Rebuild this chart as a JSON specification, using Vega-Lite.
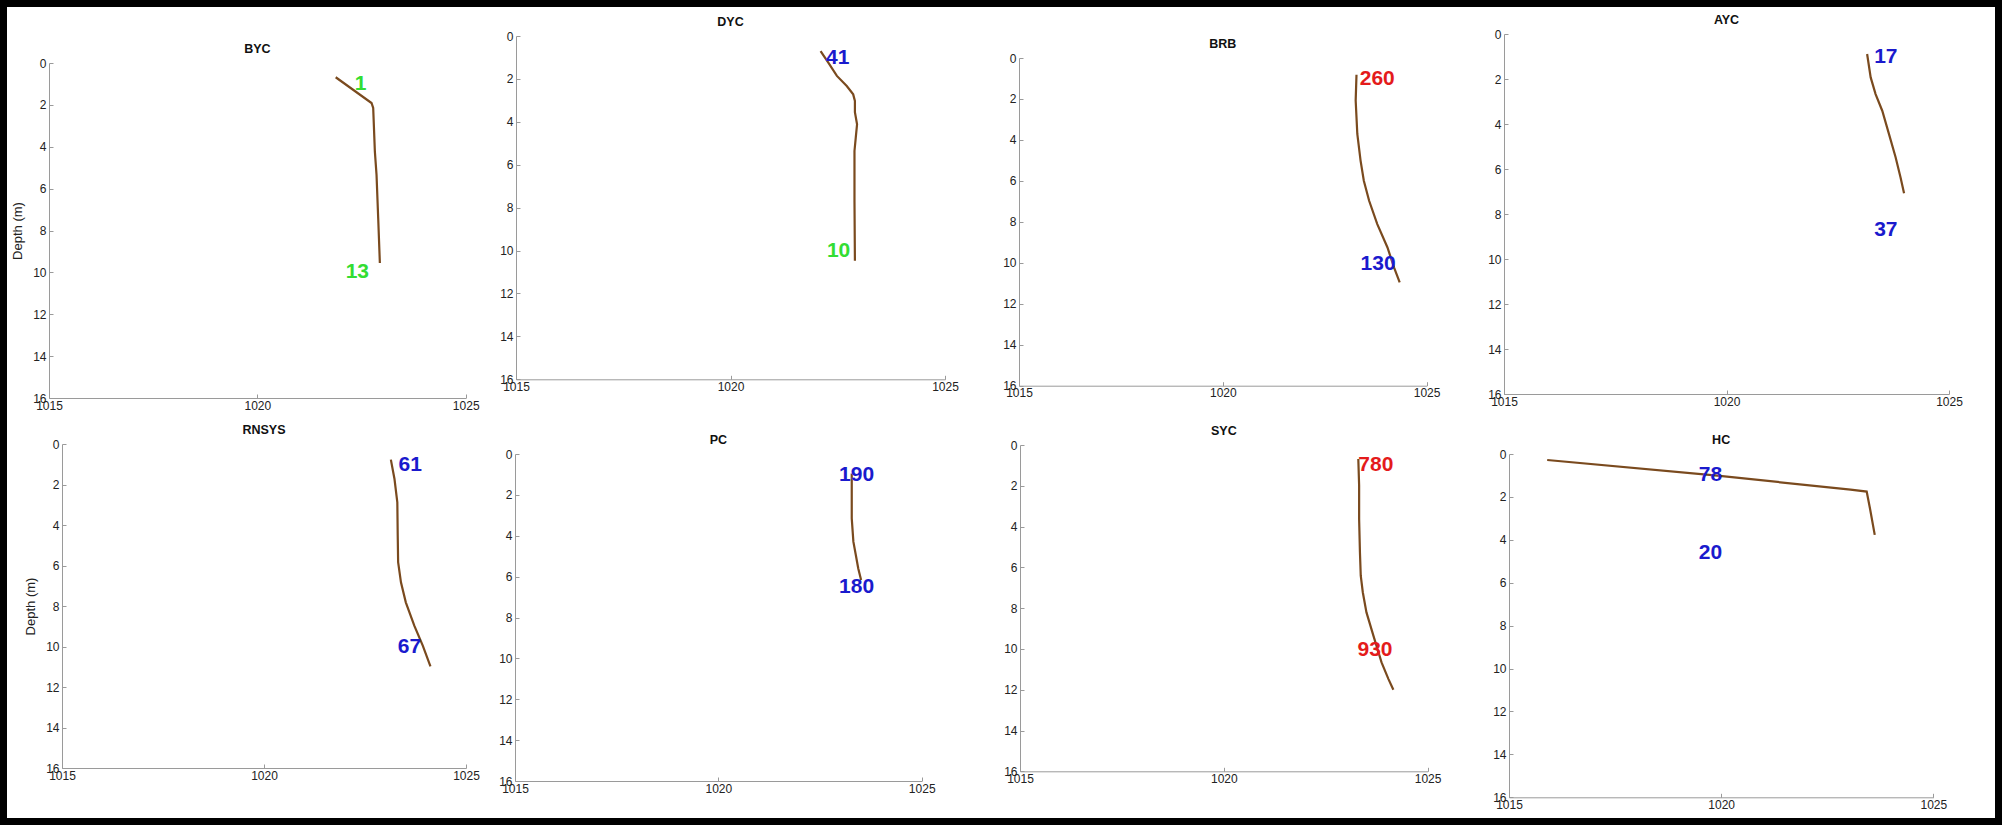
{
  "$schema": "https://vega.github.io/schema/vega-lite/v6.json",
  "background": "white",
  "padding": 0,
  "datasets": {
    "profiles": [
      {"p": "BYC", "d": 0.68, "rho": 1021.88}, {"p": "BYC", "d": 1.91, "rho": 1022.74}, {"p": "BYC", "d": 2.15, "rho": 1022.78}, {"p": "BYC", "d": 4.22, "rho": 1022.82}, {"p": "BYC", "d": 5.33, "rho": 1022.86}, {"p": "BYC", "d": 7.4, "rho": 1022.9}, {"p": "BYC", "d": 9.55, "rho": 1022.94},
      {"p": "DYC", "d": 0.7, "rho": 1022.1}, {"p": "DYC", "d": 1.24, "rho": 1022.28}, {"p": "DYC", "d": 1.86, "rho": 1022.48}, {"p": "DYC", "d": 2.33, "rho": 1022.71}, {"p": "DYC", "d": 2.72, "rho": 1022.86}, {"p": "DYC", "d": 3.03, "rho": 1022.9}, {"p": "DYC", "d": 3.55, "rho": 1022.9}, {"p": "DYC", "d": 4.12, "rho": 1022.95}, {"p": "DYC", "d": 4.74, "rho": 1022.92}, {"p": "DYC", "d": 5.36, "rho": 1022.89}, {"p": "DYC", "d": 7.69, "rho": 1022.89}, {"p": "DYC", "d": 10.48, "rho": 1022.9},
      {"p": "BRB", "d": 0.82, "rho": 1023.28}, {"p": "BRB", "d": 2.08, "rho": 1023.26}, {"p": "BRB", "d": 3.71, "rho": 1023.3}, {"p": "BRB", "d": 5.01, "rho": 1023.38}, {"p": "BRB", "d": 5.99, "rho": 1023.46}, {"p": "BRB", "d": 6.97, "rho": 1023.59}, {"p": "BRB", "d": 8.11, "rho": 1023.79}, {"p": "BRB", "d": 9.25, "rho": 1024.04}, {"p": "BRB", "d": 10.22, "rho": 1024.2}, {"p": "BRB", "d": 10.96, "rho": 1024.34},
      {"p": "AYC", "d": 0.89, "rho": 1023.16}, {"p": "AYC", "d": 1.93, "rho": 1023.24}, {"p": "AYC", "d": 2.67, "rho": 1023.35}, {"p": "AYC", "d": 3.41, "rho": 1023.5}, {"p": "AYC", "d": 4.44, "rho": 1023.65}, {"p": "AYC", "d": 5.48, "rho": 1023.8}, {"p": "AYC", "d": 6.37, "rho": 1023.91}, {"p": "AYC", "d": 7.08, "rho": 1023.99},
      {"p": "RNSYS", "d": 0.77, "rho": 1023.14}, {"p": "RNSYS", "d": 1.73, "rho": 1023.23}, {"p": "RNSYS", "d": 2.88, "rho": 1023.3}, {"p": "RNSYS", "d": 4.52, "rho": 1023.31}, {"p": "RNSYS", "d": 5.84, "rho": 1023.32}, {"p": "RNSYS", "d": 6.83, "rho": 1023.39}, {"p": "RNSYS", "d": 7.82, "rho": 1023.51}, {"p": "RNSYS", "d": 8.97, "rho": 1023.72}, {"p": "RNSYS", "d": 9.96, "rho": 1023.93}, {"p": "RNSYS", "d": 10.98, "rho": 1024.12},
      {"p": "PC", "d": 0.95, "rho": 1023.28}, {"p": "PC", "d": 2.0, "rho": 1023.28}, {"p": "PC", "d": 3.15, "rho": 1023.28}, {"p": "PC", "d": 4.29, "rho": 1023.32}, {"p": "PC", "d": 4.94, "rho": 1023.38}, {"p": "PC", "d": 5.6, "rho": 1023.44}, {"p": "PC", "d": 6.16, "rho": 1023.51},
      {"p": "SYC", "d": 0.69, "rho": 1023.3}, {"p": "SYC", "d": 1.99, "rho": 1023.32}, {"p": "SYC", "d": 3.63, "rho": 1023.32}, {"p": "SYC", "d": 5.26, "rho": 1023.34}, {"p": "SYC", "d": 6.41, "rho": 1023.36}, {"p": "SYC", "d": 7.22, "rho": 1023.41}, {"p": "SYC", "d": 8.21, "rho": 1023.5}, {"p": "SYC", "d": 9.35, "rho": 1023.67}, {"p": "SYC", "d": 10.66, "rho": 1023.87}, {"p": "SYC", "d": 11.48, "rho": 1024.04}, {"p": "SYC", "d": 12.0, "rho": 1024.16},
      {"p": "HC", "d": 0.28, "rho": 1015.9}, {"p": "HC", "d": 1.01, "rho": 1019.91}, {"p": "HC", "d": 1.66, "rho": 1023.05}, {"p": "HC", "d": 1.75, "rho": 1023.43}, {"p": "HC", "d": 2.56, "rho": 1023.51}, {"p": "HC", "d": 3.77, "rho": 1023.62}
    ],
    "labels": [
      {"p": "BYC", "d": 0.99, "rho": 1022.48, "t": "1", "k": "g"}, {"p": "BYC", "d": 9.98, "rho": 1022.4, "t": "13", "k": "g"},
      {"p": "DYC", "d": 1.04, "rho": 1022.5, "t": "41", "k": "b"}, {"p": "DYC", "d": 10.02, "rho": 1022.52, "t": "10", "k": "g"},
      {"p": "BRB", "d": 1.03, "rho": 1023.79, "t": "260", "k": "r"}, {"p": "BRB", "d": 10.06, "rho": 1023.81, "t": "130", "k": "b"},
      {"p": "AYC", "d": 1.01, "rho": 1023.58, "t": "17", "k": "b"}, {"p": "AYC", "d": 8.71, "rho": 1023.58, "t": "37", "k": "b"},
      {"p": "RNSYS", "d": 1.04, "rho": 1023.62, "t": "61", "k": "b"}, {"p": "RNSYS", "d": 10.04, "rho": 1023.6, "t": "67", "k": "b"},
      {"p": "PC", "d": 1.03, "rho": 1023.4, "t": "190", "k": "b"}, {"p": "PC", "d": 6.49, "rho": 1023.4, "t": "180", "k": "b"},
      {"p": "SYC", "d": 0.98, "rho": 1023.73, "t": "780", "k": "r"}, {"p": "SYC", "d": 10.04, "rho": 1023.71, "t": "930", "k": "r"},
      {"p": "HC", "d": 0.98, "rho": 1019.75, "t": "78", "k": "b"}, {"p": "HC", "d": 4.61, "rho": 1019.75, "t": "20", "k": "b"}
    ]
  },
  "vconcat": [
    {
      "spacing": 0,
      "hconcat": [
        {"width": 11, "height": 1, "data": {"values": []}, "mark": "point"},
        {
          "spacing": 0,
          "vconcat": [
            {"width": 1, "height": 41.4, "data": {"values": []}, "mark": "point"},
            {
              "title": "BYC",
              "width": 416.7, "height": 335,
              "encoding": {
                "x": {"field": "rho", "type": "quantitative", "scale": {"domain": [1015, 1025], "nice": false, "zero": false}, "axis": {"values": [1015, 1020, 1025], "format": "d", "title": null}},
                "y": {"field": "d", "type": "quantitative", "scale": {"domain": [0, 16], "reverse": true, "nice": false, "zero": false}, "axis": {"values": [0, 2, 4, 6, 8, 10, 12, 14, 16], "title": "Depth (m)", "minExtent": 16}}
              },
              "layer": [
                {"data": {"name": "profiles"}, "transform": [{"filter": "datum.p === 'BYC'"}], "mark": {"type": "line", "color": "#7a4a1e", "strokeWidth": 2.2}, "encoding": {"order": {"field": "d", "type": "quantitative"}}},
                {"data": {"name": "labels"}, "transform": [{"filter": "datum.p === 'BYC'"}], "mark": {"type": "text", "font": "Liberation Sans", "fontWeight": "bold", "fontSize": 21, "align": "center", "baseline": "middle"}, "encoding": {"text": {"field": "t"}, "color": {"field": "k", "type": "nominal", "scale": {"domain": ["g", "b", "r"], "range": ["#33dd33", "#1a1acd", "#e41b1b"]}, "legend": null}}}
              ]
            }
          ]
        },
        {
          "spacing": 0,
          "vconcat": [
            {"width": 1, "height": 14.7, "data": {"values": []}, "mark": "point"},
            {
              "title": "DYC",
              "width": 429, "height": 343.3,
              "encoding": {
                "x": {"field": "rho", "type": "quantitative", "scale": {"domain": [1015, 1025], "nice": false, "zero": false}, "axis": {"values": [1015, 1020, 1025], "format": "d", "title": null}},
                "y": {"field": "d", "type": "quantitative", "scale": {"domain": [0, 16], "reverse": true, "nice": false, "zero": false}, "axis": {"values": [0, 2, 4, 6, 8, 10, 12, 14, 16], "title": null, "minExtent": 35.9}}
              },
              "layer": [
                {"data": {"name": "profiles"}, "transform": [{"filter": "datum.p === 'DYC'"}], "mark": {"type": "line", "color": "#7a4a1e", "strokeWidth": 2.2}, "encoding": {"order": {"field": "d", "type": "quantitative"}}},
                {"data": {"name": "labels"}, "transform": [{"filter": "datum.p === 'DYC'"}], "mark": {"type": "text", "font": "Liberation Sans", "fontWeight": "bold", "fontSize": 21, "align": "center", "baseline": "middle"}, "encoding": {"text": {"field": "t"}, "color": {"field": "k", "type": "nominal", "scale": {"domain": ["g", "b", "r"], "range": ["#33dd33", "#1a1acd", "#e41b1b"]}, "legend": null}}}
              ]
            }
          ]
        },
        {
          "spacing": 0,
          "vconcat": [
            {"width": 1, "height": 37.0, "data": {"values": []}, "mark": "point"},
            {
              "title": "BRB",
              "width": 407.6, "height": 327.7,
              "encoding": {
                "x": {"field": "rho", "type": "quantitative", "scale": {"domain": [1015, 1025], "nice": false, "zero": false}, "axis": {"values": [1015, 1020, 1025], "format": "d", "title": null}},
                "y": {"field": "d", "type": "quantitative", "scale": {"domain": [0, 16], "reverse": true, "nice": false, "zero": false}, "axis": {"values": [0, 2, 4, 6, 8, 10, 12, 14, 16], "title": null, "minExtent": 60}}
              },
              "layer": [
                {"data": {"name": "profiles"}, "transform": [{"filter": "datum.p === 'BRB'"}], "mark": {"type": "line", "color": "#7a4a1e", "strokeWidth": 2.2}, "encoding": {"order": {"field": "d", "type": "quantitative"}}},
                {"data": {"name": "labels"}, "transform": [{"filter": "datum.p === 'BRB'"}], "mark": {"type": "text", "font": "Liberation Sans", "fontWeight": "bold", "fontSize": 21, "align": "center", "baseline": "middle"}, "encoding": {"text": {"field": "t"}, "color": {"field": "k", "type": "nominal", "scale": {"domain": ["g", "b", "r"], "range": ["#33dd33", "#1a1acd", "#e41b1b"]}, "legend": null}}}
              ]
            }
          ]
        },
        {
          "spacing": 0,
          "vconcat": [
            {"width": 1, "height": 13.0, "data": {"values": []}, "mark": "point"},
            {
              "title": "AYC",
              "width": 445, "height": 360,
              "encoding": {
                "x": {"field": "rho", "type": "quantitative", "scale": {"domain": [1015, 1025], "nice": false, "zero": false}, "axis": {"values": [1015, 1020, 1025], "format": "d", "title": null}},
                "y": {"field": "d", "type": "quantitative", "scale": {"domain": [0, 16], "reverse": true, "nice": false, "zero": false}, "axis": {"values": [0, 2, 4, 6, 8, 10, 12, 14, 16], "title": null, "minExtent": 64}}
              },
              "layer": [
                {"data": {"name": "profiles"}, "transform": [{"filter": "datum.p === 'AYC'"}], "mark": {"type": "line", "color": "#7a4a1e", "strokeWidth": 2.2}, "encoding": {"order": {"field": "d", "type": "quantitative"}}},
                {"data": {"name": "labels"}, "transform": [{"filter": "datum.p === 'AYC'"}], "mark": {"type": "text", "font": "Liberation Sans", "fontWeight": "bold", "fontSize": 21, "align": "center", "baseline": "middle"}, "encoding": {"text": {"field": "t"}, "color": {"field": "k", "type": "nominal", "scale": {"domain": ["g", "b", "r"], "range": ["#33dd33", "#1a1acd", "#e41b1b"]}, "legend": null}}}
              ]
            }
          ]
        }
      ]
    },
    {
      "spacing": 0,
      "hconcat": [
        {"width": 23.7, "height": 1, "data": {"values": []}, "mark": "point"},
        {
          "spacing": 0,
          "vconcat": [
            {"width": 1, "height": 11.1, "data": {"values": []}, "mark": "point"},
            {
              "title": "RNSYS",
              "width": 404, "height": 324,
              "encoding": {
                "x": {"field": "rho", "type": "quantitative", "scale": {"domain": [1015, 1025], "nice": false, "zero": false}, "axis": {"values": [1015, 1020, 1025], "format": "d", "title": null}},
                "y": {"field": "d", "type": "quantitative", "scale": {"domain": [0, 16], "reverse": true, "nice": false, "zero": false}, "axis": {"values": [0, 2, 4, 6, 8, 10, 12, 14, 16], "title": "Depth (m)", "minExtent": 16}}
              },
              "layer": [
                {"data": {"name": "profiles"}, "transform": [{"filter": "datum.p === 'RNSYS'"}], "mark": {"type": "line", "color": "#7a4a1e", "strokeWidth": 2.2}, "encoding": {"order": {"field": "d", "type": "quantitative"}}},
                {"data": {"name": "labels"}, "transform": [{"filter": "datum.p === 'RNSYS'"}], "mark": {"type": "text", "font": "Liberation Sans", "fontWeight": "bold", "fontSize": 21, "align": "center", "baseline": "middle"}, "encoding": {"text": {"field": "t"}, "color": {"field": "k", "type": "nominal", "scale": {"domain": ["g", "b", "r"], "range": ["#33dd33", "#1a1acd", "#e41b1b"]}, "legend": null}}}
              ]
            }
          ]
        },
        {
          "spacing": 0,
          "vconcat": [
            {"width": 1, "height": 21.7, "data": {"values": []}, "mark": "point"},
            {
              "title": "PC",
              "width": 406.7, "height": 327,
              "encoding": {
                "x": {"field": "rho", "type": "quantitative", "scale": {"domain": [1015, 1025], "nice": false, "zero": false}, "axis": {"values": [1015, 1020, 1025], "format": "d", "title": null}},
                "y": {"field": "d", "type": "quantitative", "scale": {"domain": [0, 16], "reverse": true, "nice": false, "zero": false}, "axis": {"values": [0, 2, 4, 6, 8, 10, 12, 14, 16], "title": null, "minExtent": 34.9}}
              },
              "layer": [
                {"data": {"name": "profiles"}, "transform": [{"filter": "datum.p === 'PC'"}], "mark": {"type": "line", "color": "#7a4a1e", "strokeWidth": 2.2}, "encoding": {"order": {"field": "d", "type": "quantitative"}}},
                {"data": {"name": "labels"}, "transform": [{"filter": "datum.p === 'PC'"}], "mark": {"type": "text", "font": "Liberation Sans", "fontWeight": "bold", "fontSize": 21, "align": "center", "baseline": "middle"}, "encoding": {"text": {"field": "t"}, "color": {"field": "k", "type": "nominal", "scale": {"domain": ["g", "b", "r"], "range": ["#33dd33", "#1a1acd", "#e41b1b"]}, "legend": null}}}
              ]
            }
          ]
        },
        {
          "spacing": 0,
          "vconcat": [
            {"width": 1, "height": 12.1, "data": {"values": []}, "mark": "point"},
            {
              "title": "SYC",
              "width": 407.6, "height": 326.3,
              "encoding": {
                "x": {"field": "rho", "type": "quantitative", "scale": {"domain": [1015, 1025], "nice": false, "zero": false}, "axis": {"values": [1015, 1020, 1025], "format": "d", "title": null}},
                "y": {"field": "d", "type": "quantitative", "scale": {"domain": [0, 16], "reverse": true, "nice": false, "zero": false}, "axis": {"values": [0, 2, 4, 6, 8, 10, 12, 14, 16], "title": null, "minExtent": 83.3}}
              },
              "layer": [
                {"data": {"name": "profiles"}, "transform": [{"filter": "datum.p === 'SYC'"}], "mark": {"type": "line", "color": "#7a4a1e", "strokeWidth": 2.2}, "encoding": {"order": {"field": "d", "type": "quantitative"}}},
                {"data": {"name": "labels"}, "transform": [{"filter": "datum.p === 'SYC'"}], "mark": {"type": "text", "font": "Liberation Sans", "fontWeight": "bold", "fontSize": 21, "align": "center", "baseline": "middle"}, "encoding": {"text": {"field": "t"}, "color": {"field": "k", "type": "nominal", "scale": {"domain": ["g", "b", "r"], "range": ["#33dd33", "#1a1acd", "#e41b1b"]}, "legend": null}}}
              ]
            }
          ]
        },
        {
          "spacing": 0,
          "vconcat": [
            {"width": 1, "height": 21.1, "data": {"values": []}, "mark": "point"},
            {
              "title": "HC",
              "width": 424.3, "height": 343.3,
              "encoding": {
                "x": {"field": "rho", "type": "quantitative", "scale": {"domain": [1015, 1025], "nice": false, "zero": false}, "axis": {"values": [1015, 1020, 1025], "format": "d", "title": null}},
                "y": {"field": "d", "type": "quantitative", "scale": {"domain": [0, 16], "reverse": true, "nice": false, "zero": false}, "axis": {"values": [0, 2, 4, 6, 8, 10, 12, 14, 16], "title": null, "minExtent": 67.3}}
              },
              "layer": [
                {"data": {"name": "profiles"}, "transform": [{"filter": "datum.p === 'HC'"}], "mark": {"type": "line", "color": "#7a4a1e", "strokeWidth": 2.2}, "encoding": {"order": {"field": "d", "type": "quantitative"}}},
                {"data": {"name": "labels"}, "transform": [{"filter": "datum.p === 'HC'"}], "mark": {"type": "text", "font": "Liberation Sans", "fontWeight": "bold", "fontSize": 21, "align": "center", "baseline": "middle"}, "encoding": {"text": {"field": "t"}, "color": {"field": "k", "type": "nominal", "scale": {"domain": ["g", "b", "r"], "range": ["#33dd33", "#1a1acd", "#e41b1b"]}, "legend": null}}}
              ]
            }
          ]
        }
      ]
    }
  ],
  "spacing": 0,
  "config": {
    "view": {"stroke": null},
    "font": "Liberation Sans",
    "axis": {"grid": false, "labelFont": "Liberation Sans", "labelFontSize": 12, "labelColor": "#222222", "domainColor": "#9a9a9a", "tickColor": "#9a9a9a", "tickSize": -4, "titleFont": "Liberation Sans", "titleFontSize": 13, "titleFontWeight": "normal", "titleColor": "#222222", "labelFlush": false},
    "axisX": {"labelPadding": 6},
    "axisY": {"labelPadding": 7, "titlePadding": 8.5},
    "title": {"font": "Liberation Sans", "fontSize": 12.5, "fontWeight": "bold", "color": "#111111", "offset": 2, "frame": "group", "anchor": "middle"},
    "group": {"stroke": "#000000", "strokeWidth": 14},
    "width": 2002,
    "height": 825
  }
}
